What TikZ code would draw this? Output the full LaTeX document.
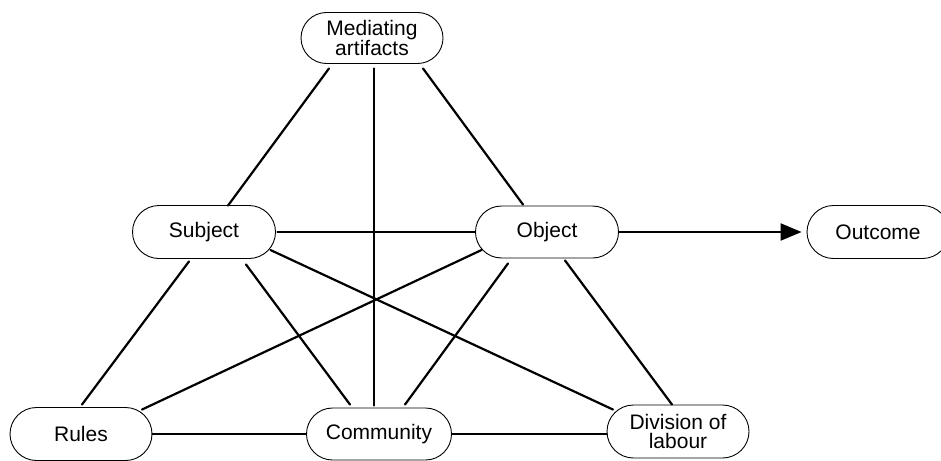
\documentclass[tikz,border=0pt]{standalone}
\usepackage{fontspec}
\setmainfont{Liberation Sans}
\usetikzlibrary{shapes.misc,arrows.meta}

\tikzset{
  pill/.style={rounded rectangle, draw=black, line width=0.9pt, fill=white,
    minimum width=142pt, minimum height=52pt, inner sep=0pt, align=center,
    font=\fontsize{21}{19}\selectfont},
  link/.style={line width=2.2pt, line cap=round},
  flow/.style={line width=2.2pt, -{Triangle[length=21pt,width=17pt]}, shorten >=5pt}
}

\begin{document}
\begin{tikzpicture}[x=1pt,y=-1pt]
\useasboundingbox (0,0) rectangle (941,460);

% the seven elements of the activity system
\node[pill, minimum height=51pt] (med) at (372,38)    {Mediating\\artifacts};
\node[pill, minimum width=143pt, minimum height=53pt] (sub) at (204,232) {Subject};
\node[pill, minimum width=143pt] (obj) at (547,232)   {Object};
\node[pill, minimum height=53pt] (out) at (878,232)   {Outcome};
\node[pill, minimum height=53pt] (rul) at (81,434)    {Rules};
\node[pill, minimum width=145pt] (com) at (379,434)   {Community};
\node[pill, minimum height=53pt] (div) at (678,431.5) {Division of\\labour};

% links between the elements
\draw[link] ([shift={(-43,4.5)}]med.south) -- ([shift={(24,0.5)}]sub.north);
\draw[link] ([shift={(51,4.5)}]med.south)  -- ([shift={(-24,-1)}]obj.north);
\draw[link] ([shift={(2,4.5)}]med.south)   -- ([shift={(-5,-2)}]com.north);
\draw[link] ([xshift=1.5pt]sub.east) -- (obj.west);
\draw[link] ([shift={(-15,2.5)}]sub.south) -- ([shift={(1,-2.5)}]rul.north);
\draw[link] ([shift={(42,5.5)}]sub.south)  -- ([shift={(-29,-3)}]com.north);
\draw[link] ([shift={(-5.5,18)}]sub.east)  -- ([shift={(-65,5)}]div.north);
\draw[link] ([shift={(6.5,18)}]obj.west)   -- ([shift={(61,2.5)}]rul.north);
\draw[link] ([shift={(-39,5)}]obj.south)   -- ([shift={(26,-3)}]com.north);
\draw[link] ([shift={(18,2)}]obj.south)    -- ([shift={(-6,0)}]div.north);
\draw[link] (rul.east) -- (com.west);
\draw[link] (com.east) -- (com.east -| div.west);

% result of the activity
\draw[flow] (obj.east) -- (out.west);
\end{tikzpicture}
\end{document}
